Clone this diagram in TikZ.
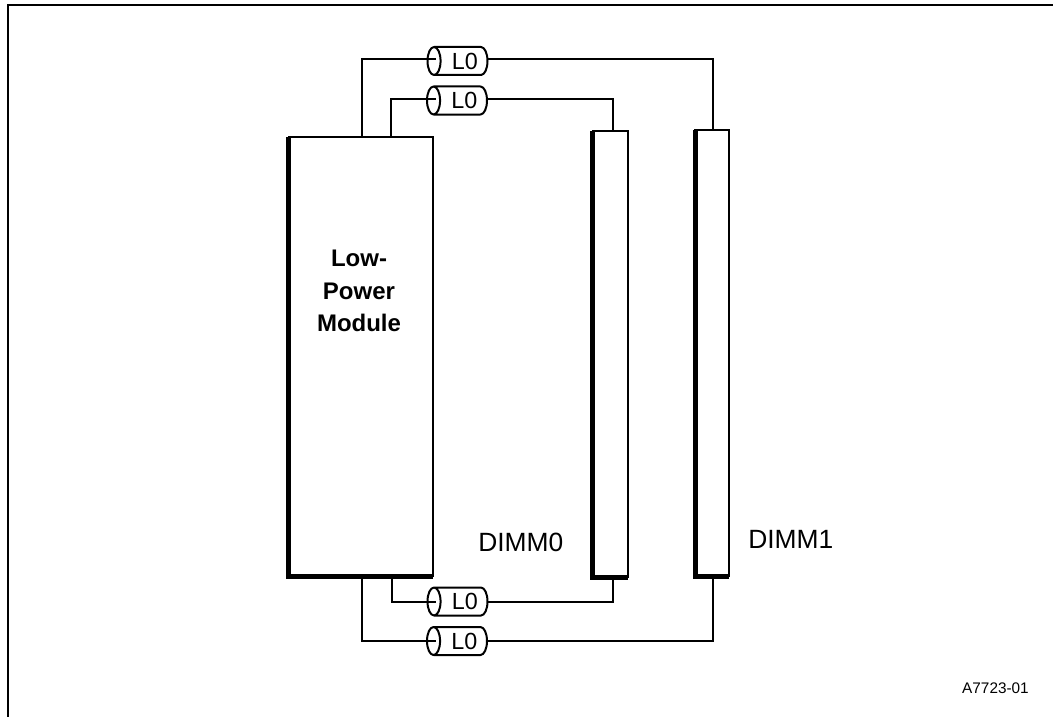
\documentclass[tikz,border=0pt]{standalone}
\usepackage{fontspec}
\setmainfont{Liberation Sans}
\usetikzlibrary{calc}
\tikzset{
  wire/.style={line width=1.5pt,line join=miter},
  frameline/.style={line width=1.5pt},
  shadowline/.style={line width=3.75pt,line cap=butt,line join=miter},
  boxnode/.style={draw,line width=1.4pt,inner sep=0pt,outer sep=0pt,anchor=north west},
  coax/.style={inner sep=0pt,outer sep=0pt,minimum width=45pt,minimum height=21pt,
    font=\fontsize{17.5}{17.5}\selectfont},
  coaxline/.style={line width=1.5pt,line join=round},
  labeltext/.style={inner sep=0pt,font=\fontsize{19.8}{20}\selectfont,anchor=base west},
}
\newcommand{\coaxcable}[3]{%
  \node[coax] (#1) at (#2,#3) {\hspace*{11pt}\raisebox{-1.1pt}{L0}};
  \draw[coaxline] ([xshift=4.9pt]#1.north west)
    arc[start angle=90,end angle=450,x radius=4.9pt,y radius=10.5pt]
    -- ([xshift=-4.9pt]#1.north east)
    arc[start angle=90,end angle=-90,x radius=4.9pt,y radius=10.5pt]
    -- ([xshift=4.9pt]#1.south west);
}
\begin{document}
\begin{tikzpicture}[x=0.75pt,y=-0.75pt]
\useasboundingbox (0,0) rectangle (1053,717);
\coordinate (ftl) at (8,5);
\coordinate (ftr) at (1053,5);
\coordinate (fbl) at (8,717);
\draw[frameline] (fbl) -- (ftl) -- (ftr);
% boxes
\node[boxnode,minimum width=108.4pt,minimum height=329.25pt] (lpm) at (288.5,137) {};
\node[boxnode,minimum width=26.6pt,minimum height=334.5pt] (dimm0) at (592.5,131) {};
\node[boxnode,minimum width=25.5pt,minimum height=334.5pt] (dimm1) at (695,130) {};
\draw[shadowline] (lpm.north west) -- (lpm.south west) -- (lpm.south east);
\draw[shadowline] (dimm0.north west) -- (dimm0.south west) -- (dimm0.south east);
\draw[shadowline] (dimm1.north west) -- (dimm1.south west) -- (dimm1.south east);
% wire end points
\coordinate (t1) at (362,137);
\coordinate (t2) at (391,137);
\coordinate (b1) at (362,578);
\coordinate (b2) at (392,578);
\coordinate (d0t) at (613,131);
\coordinate (d1t) at (713,130);
\coordinate (d0b) at (613,580);
\coordinate (d1b) at (713,578);
% cables
\coaxcable{c1}{457.5}{61}
\coaxcable{c2}{457}{100.5}
\coaxcable{c3}{457.5}{601.5}
\coaxcable{c4}{457}{641}
% wires
\draw[wire] (t1) |- ([xshift=6.5pt]c1.west|-0,59);
\draw[wire] (t2) |- ([xshift=6.5pt]c2.west|-0,99);
\draw[wire] (b2) |- ([xshift=6.5pt]c3.west|-0,602);
\draw[wire] (b1) |- ([xshift=6.5pt]c4.west|-0,641);
\draw[wire] (c1.east|-0,59) -| (d1t);
\draw[wire] (c2.east|-0,99) -| (d0t);
\draw[wire] (c3.east|-0,602) -| (d0b);
\draw[wire] (c4.east|-0,641) -| (d1b);
% labels
\node[font=\bfseries\fontsize{18}{24.4}\selectfont,align=center,inner sep=0pt] (lpmt) at (359,291) {Low-\\Power\\Module};
\node[labeltext] (d0l) at (478,551) {DIMM0};
\node[labeltext] (d1l) at (748,548) {DIMM1};
\node[inner sep=0pt,font=\fontsize{11.5}{12}\selectfont,anchor=base east] (id) at (1029,693) {A7723-01};
\end{tikzpicture}
\end{document}
